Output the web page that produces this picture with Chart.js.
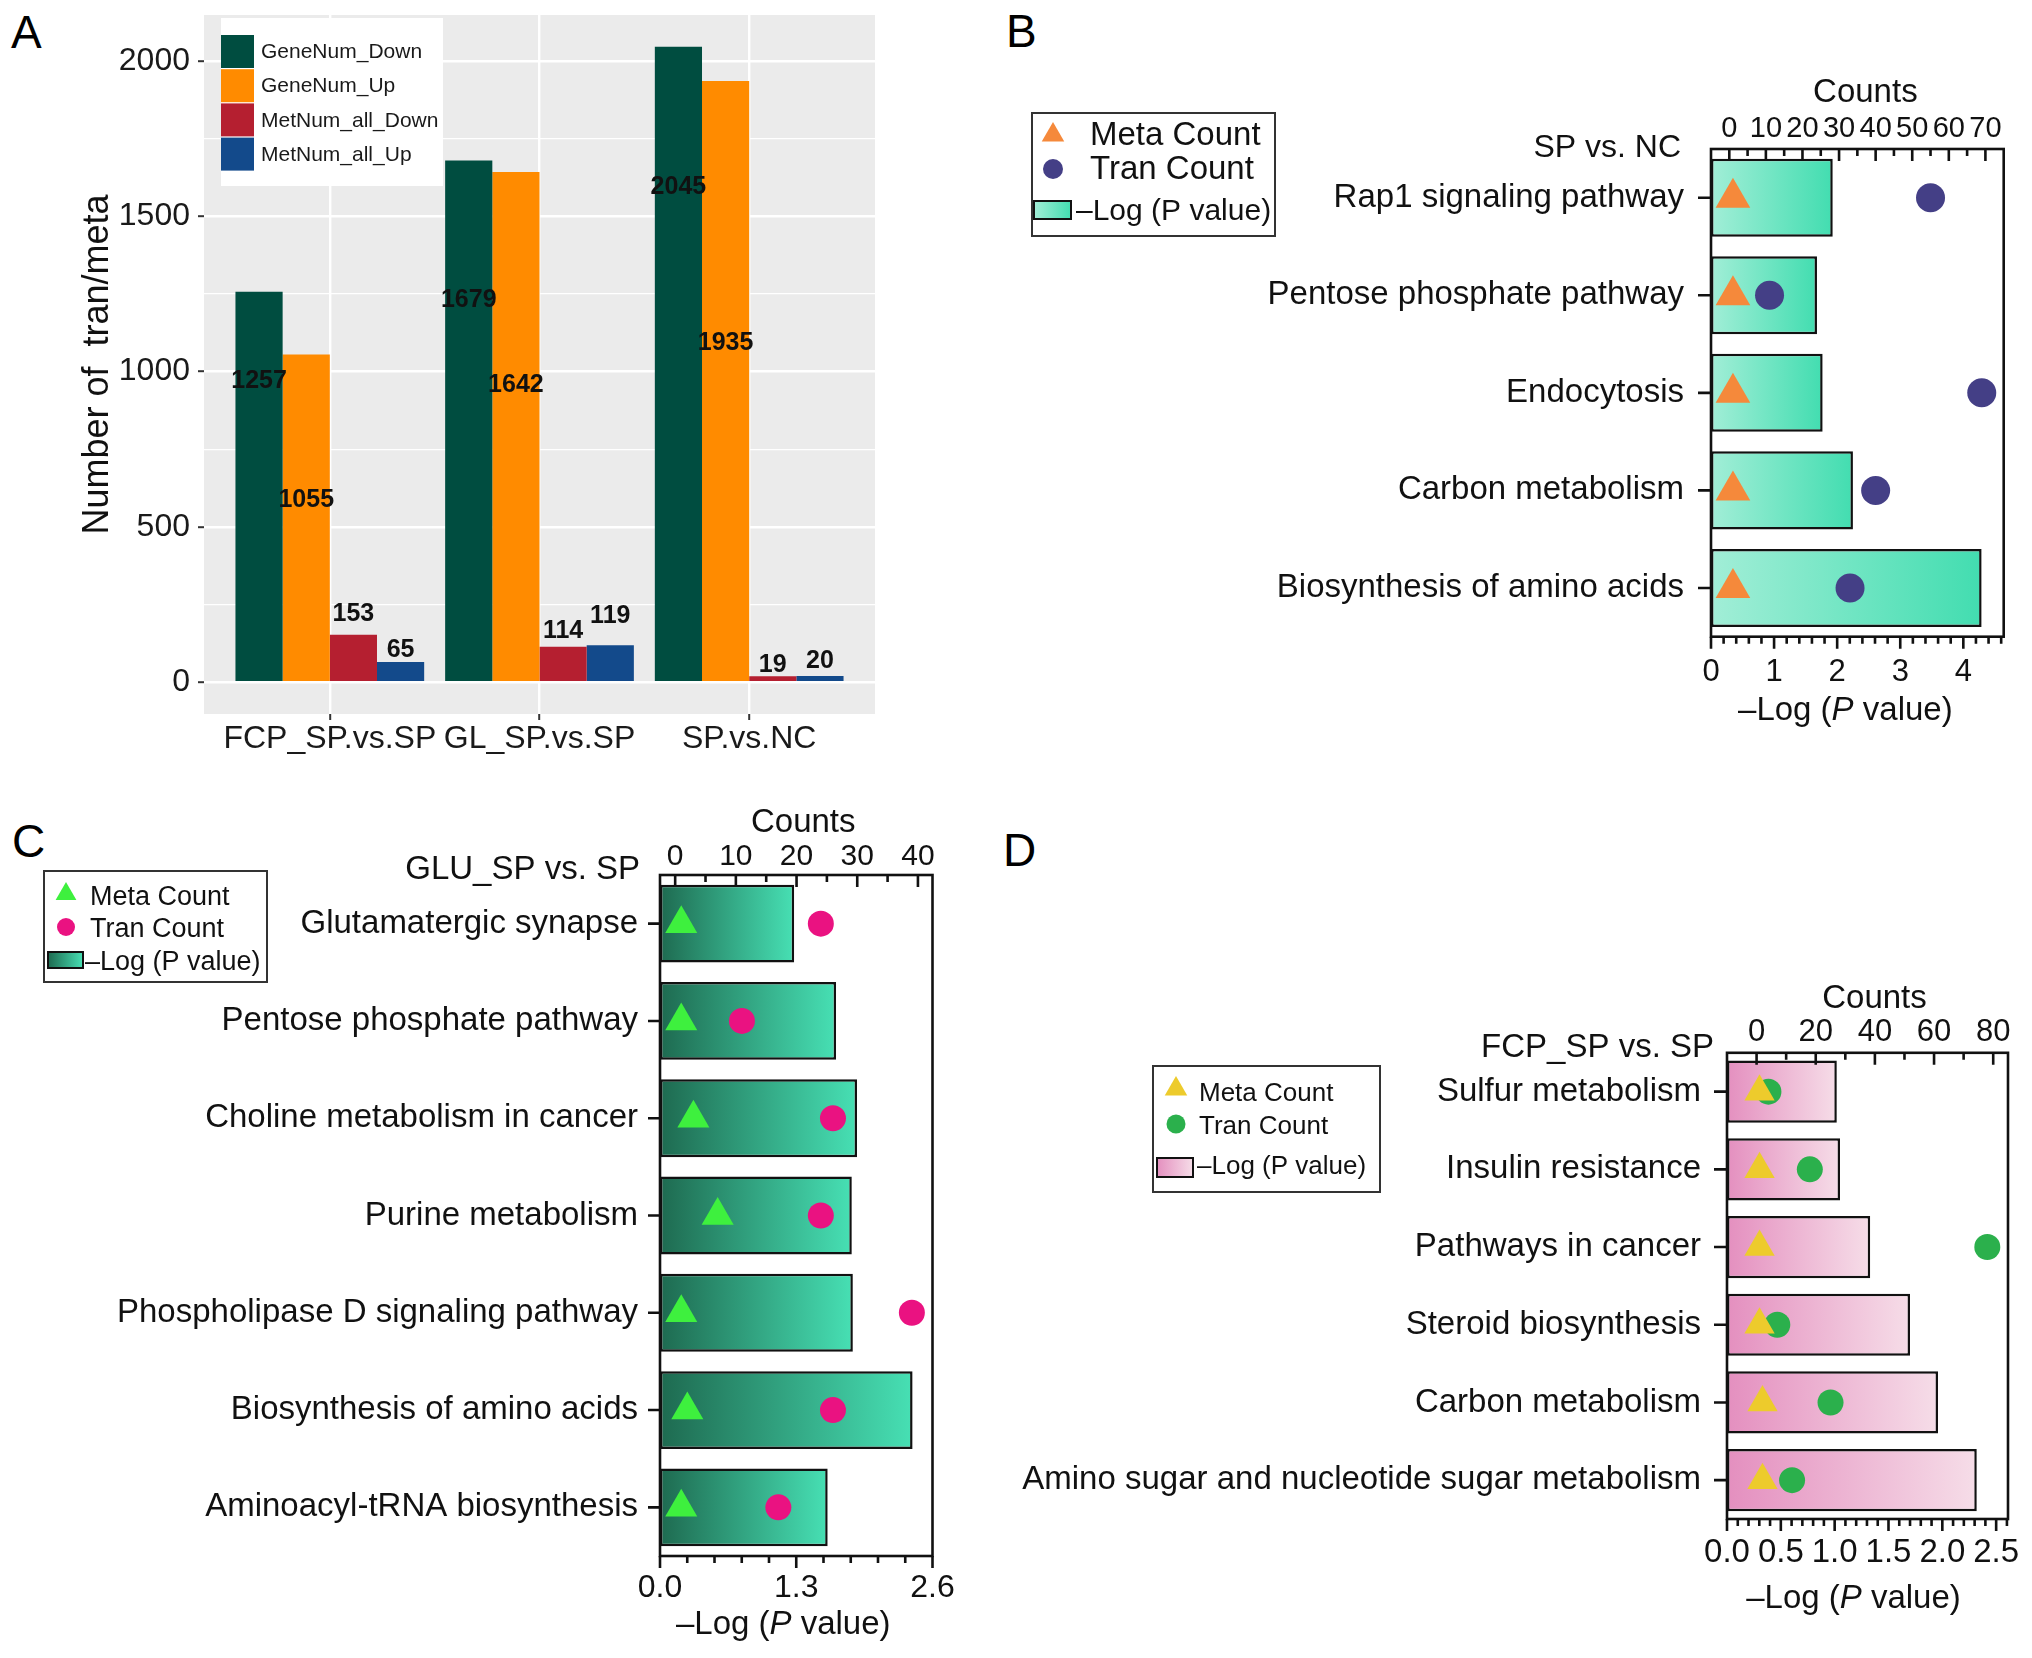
<!DOCTYPE html>
<html>
<head>
<meta charset="utf-8">
<title>Transcriptome / metabolome summary</title>
<script src="https://cdn.jsdelivr.net/npm/chart.js@4.4.1/dist/chart.umd.min.js"></script>
<style>
  html, body { margin:0; padding:0; background:#fff; }
  body { position:relative; width:2032px; height:1658px; overflow:hidden; font-family:'Liberation Sans', Arial, Helvetica, sans-serif; }
  canvas { position:absolute; display:block; }
  .tag { position:absolute; font-size:46px; line-height:46px; color:#000; }
</style>
</head>
<body>
<div class="tag" style="left:11px;top:9px">A</div>
<div class="tag" style="left:1006px;top:8px">B</div>
<div class="tag" style="left:12px;top:818px">C</div>
<div class="tag" style="left:1003px;top:827px">D</div>
<canvas id="chartA" width="900" height="790" style="left:0;top:0;width:900px;height:790px"></canvas>
<canvas id="chartB" width="1032" height="780" style="left:1000px;top:0;width:1032px;height:780px"></canvas>
<canvas id="chartC" width="1000" height="858" style="left:0;top:800px;width:1000px;height:858px"></canvas>
<canvas id="chartD" width="1032" height="858" style="left:1000px;top:800px;width:1032px;height:858px"></canvas>
<script>
// ================= DATA =================
// Panel A – numbers of differential transcripts / metabolites
const groupsA = ['FCP_SP.vs.SP', 'GL_SP.vs.SP', 'SP.vs.NC'];
const geneNumDown   = [1257, 1679, 2045];
const geneNumUp     = [1055, 1642, 1935];
const metNumAllDown = [153, 114, 19];
const metNumAllUp   = [65, 119, 20];
const yTicksA = [0, 500, 1000, 1500, 2000];

// Panel B – SP vs. NC
const pathwaysB  = ['Rap1 signaling pathway', 'Pentose phosphate pathway', 'Endocytosis', 'Carbon metabolism', 'Biosynthesis of amino acids'];
const negLogPB   = [1.93, 1.68, 1.77, 2.25, 4.29];
const metaCountB = [1, 1, 1, 1, 1];
const tranCountB = [55, 11, 69, 40, 33];
const pTicksB     = [0, 1, 2, 3, 4];
const countTicksB = [0, 10, 20, 30, 40, 50, 60, 70];

// Panel C – GLU_SP vs. SP
const pathwaysC  = ['Glutamatergic synapse', 'Pentose phosphate pathway', 'Choline metabolism in cancer', 'Purine metabolism', 'Phospholipase D signaling pathway', 'Biosynthesis of amino acids', 'Aminoacyl-tRNA biosynthesis'];
const negLogPC   = [1.28, 1.68, 1.88, 1.83, 1.84, 2.41, 1.60];
const metaCountC = [1, 1, 3, 7, 1, 2, 1];
const tranCountC = [24, 11, 26, 24, 39, 26, 17];
const pTicksC     = [0, 1.3, 2.6];
const countTicksC = [0, 10, 20, 30, 40];

// Panel D – FCP_SP vs. SP
const pathwaysD  = ['Sulfur metabolism', 'Insulin resistance', 'Pathways in cancer', 'Steroid biosynthesis', 'Carbon metabolism', 'Amino sugar and nucleotide sugar metabolism'];
const negLogPD   = [1.02, 1.05, 1.33, 1.70, 1.96, 2.32];
const metaCountD = [1, 1, 1, 1, 2, 2];
const tranCountD = [4, 18, 78, 7, 25, 12];
const pTicksD     = [0, 0.5, 1, 1.5, 2, 2.5];
const countTicksD = [0, 20, 40, 60, 80];

// ================= HELPERS =================
const FONT = "'Liberation Sans', Arial, Helvetica, sans-serif";
Chart.defaults.font.family = FONT;
Chart.defaults.color = '#111';

function steps(from, to, step) {
  const out = [];
  for (let k = 0; ; k++) {
    const v = +(from + k * step).toFixed(6);
    if (v > to + 1e-9) break;
    out.push(v);
  }
  return out;
}
function minorTicks(majors, from, to, step) {
  return steps(from, to, step).filter(v => !majors.some(m => Math.abs(m - v) < 1e-6));
}
function noPad(s) { s.paddingLeft = 0; s.paddingRight = 0; s.paddingTop = 0; s.paddingBottom = 0; }

// ================= PANEL A =================
const panelBg = {
  id: 'panelBg',
  beforeDraw(chart, args, o) {
    const { ctx, chartArea: a } = chart;
    ctx.save();
    ctx.fillStyle = o.color;
    ctx.fillRect(a.left, a.top, a.right - a.left, a.bottom - a.top);
    ctx.restore();
  }
};
const valueLabels = {
  id: 'valueLabels',
  afterDatasetsDraw(chart, args, o) {
    const ctx = chart.ctx, ys = chart.scales.y;
    ctx.save();
    ctx.font = `bold ${o.size}px ${FONT}`;
    ctx.fillStyle = '#111';
    ctx.textAlign = 'center';
    ctx.textBaseline = 'middle';
    chart.data.datasets.forEach((ds, i) => {
      chart.getDatasetMeta(i).data.forEach((bar, j) => {
        ctx.fillText(String(ds.data[j].y), bar.x, ys.getPixelForValue(o.anchorY[i][j]));
      });
    });
    ctx.restore();
  }
};
const legendA = {
  id: 'legendA',
  afterDraw(chart, args, o) {
    const ctx = chart.ctx;
    ctx.save();
    ctx.fillStyle = '#fff';
    ctx.fillRect(o.x, o.y, o.w, o.h);
    ctx.font = `${o.size}px ${FONT}`;
    ctx.textAlign = 'left';
    ctx.textBaseline = 'middle';
    chart.data.datasets.forEach((ds, i) => {
      const top = o.firstTop + i * o.step;
      ctx.fillStyle = ds.backgroundColor;
      ctx.fillRect(o.x, top, o.key, o.key);
      ctx.fillStyle = '#1a1a1a';
      ctx.fillText(ds.label, o.textX, top + o.key / 2 + 1);
    });
    ctx.restore();
  }
};

const seriesA = [
  { label: 'GeneNum_Down',    values: geneNumDown,   color: '#004d40' },
  { label: 'GeneNum_Up',      values: geneNumUp,     color: '#ff8b00' },
  { label: 'MetNum_all_Down', values: metNumAllDown, color: '#b51f30' },
  { label: 'MetNum_all_Up',   values: metNumAllUp,   color: '#134a8b' }
];
const isMajorA = v => yTicksA.includes(v);

new Chart(document.getElementById('chartA'), {
  type: 'bar',
  data: {
    datasets: seriesA.map(s => ({
      label: s.label,
      data: s.values.map((v, i) => ({ x: i, y: v })),
      backgroundColor: s.color,
      borderWidth: 0,
      categoryPercentage: 0.9,
      barPercentage: 1.0
    }))
  },
  options: {
    responsive: false, devicePixelRatio: 1, animation: false, events: [],
    layout: { padding: { left: 0, right: 25, top: 15, bottom: 0 } },
    plugins: {
      legend: { display: false }, tooltip: { enabled: false },
      panelBg: { color: '#ebebeb' },
      valueLabels: { size: 25, anchorY: [[969, 1230, 1592], [585, 955, 1090], [219, 166, 54], [102, 212, 69]] },
      legendA: { x: 221, y: 18, w: 222, h: 168, key: 33, firstTop: 35, step: 34.2, textX: 261, size: 21 }
    },
    scales: {
      x: {
        type: 'linear', min: -0.6, max: 2.6, offset: false,
        afterBuildTicks: s => { s.ticks = groupsA.map((g, i) => ({ value: i })); },
        afterFit: s => { s.height = 76; noPad(s); },
        grid: { offset: false, color: '#ffffff', lineWidth: 2.4, tickColor: '#333', tickLength: 6, tickWidth: 2 },
        border: { display: false },
        ticks: { autoSkip: false, maxRotation: 0, padding: 0, font: { size: 32 }, color: '#1a1a1a', callback: v => groupsA[v] }
      },
      y: {
        type: 'linear', min: -102.25, max: 2147.25,
        afterBuildTicks: s => { s.ticks = steps(0, 2000, 250).map(v => ({ value: v })); },
        afterFit: s => { s.width = 204; noPad(s); },
        grid: {
          color: '#ffffff',
          lineWidth: c => (c.tick && isMajorA(c.tick.value)) ? 2.4 : 1.2,
          tickColor: c => (c.tick && isMajorA(c.tick.value)) ? '#333' : 'rgba(0,0,0,0)',
          tickLength: 6, tickWidth: 2
        },
        border: { display: false },
        ticks: { autoSkip: false, padding: 8, font: { size: 32 }, color: '#1a1a1a', callback: v => isMajorA(v) ? String(v) : '' },
        title: { display: true, text: 'Number of  tran/meta', font: { size: 36 }, color: '#111', padding: { top: 76, bottom: 0 } }
      }
    }
  },
  plugins: [panelBg, valueLabels, legendA]
});

// ================= PANELS B, C, D =================
function barGradient(colors) {
  return c => {
    if (c.type !== 'data') return colors[1];
    const xs = c.chart.scales.x;
    const x0 = xs.getPixelForValue(0), x1 = xs.getPixelForValue(c.raw);
    if (!isFinite(x0) || !isFinite(x1) || x1 <= x0) return colors[1];
    const g = c.chart.ctx.createLinearGradient(x0, 0, x1, 0);
    g.addColorStop(0, colors[0]);
    g.addColorStop(1, colors[1]);
    return g;
  };
}

function drawLogPTitle(ctx, cx, baseline, size) {
  const parts = [['\u2013Log (', ''], ['P', 'italic '], [' value)', '']];
  let total = 0;
  parts.forEach(p => { ctx.font = `${p[1]}${size}px ${FONT}`; p.w = ctx.measureText(p[0]).width; total += p.w; });
  let x = cx - total / 2;
  ctx.textAlign = 'left';
  ctx.textBaseline = 'alphabetic';
  parts.forEach(p => { ctx.font = `${p[1]}${size}px ${FONT}`; ctx.fillText(p[0], x, baseline); x += p.w; });
}

const enrichDeco = {
  id: 'enrichDeco',
  afterDraw(chart, args, o) {
    const { ctx, chartArea: a, scales } = chart;
    const ys = scales.y, xs = scales.x, x2 = scales.x2;
    ctx.save();
    ctx.strokeStyle = '#111';
    ctx.lineWidth = 2.6;
    ctx.lineCap = 'butt';
    ctx.strokeRect(a.left, a.top, a.right - a.left, a.bottom - a.top);
    ctx.beginPath();
    chart.data.labels.forEach((_, i) => {
      const y = ys.getPixelForValue(i);
      ctx.moveTo(a.left - o.catTick, y); ctx.lineTo(a.left, y);
    });
    o.pTicks.forEach(v => { const x = xs.getPixelForValue(v); ctx.moveTo(x, a.bottom); ctx.lineTo(x, a.bottom + 12); });
    o.pMinor.forEach(v => { const x = xs.getPixelForValue(v); ctx.moveTo(x, a.bottom); ctx.lineTo(x, a.bottom + 7); });
    o.cTicks.forEach(v => { const x = x2.getPixelForValue(v); ctx.moveTo(x, a.top); ctx.lineTo(x, a.top + 12); });
    o.cMinor.forEach(v => { const x = x2.getPixelForValue(v); ctx.moveTo(x, a.top); ctx.lineTo(x, a.top + 7); });
    ctx.stroke();

    ctx.fillStyle = '#111';
    // comparison label
    ctx.font = `${o.cmp.size}px ${FONT}`;
    ctx.textAlign = 'right';
    ctx.textBaseline = 'alphabetic';
    ctx.fillText(o.cmp.text, o.cmp.right, o.cmp.baseline);
    // top axis title
    ctx.font = `33px ${FONT}`;
    ctx.textAlign = 'center';
    ctx.fillText('Counts', (a.left + a.right) / 2 + o.countsDx, o.countsBaseline);
    // bottom axis title
    drawLogPTitle(ctx, (a.left + a.right) / 2 + o.logDx, o.logBaseline, 33);

    // legend
    const L = o.legend;
    const ds = chart.data.datasets;
    ctx.fillStyle = '#fff';
    ctx.fillRect(L.x, L.y, L.w, L.h);
    ctx.strokeStyle = '#333';
    ctx.lineWidth = 2;
    ctx.strokeRect(L.x, L.y, L.w, L.h);
    // triangle
    ctx.fillStyle = ds[0].pointBackgroundColor;
    ctx.beginPath();
    ctx.moveTo(L.sx, L.triY - L.triR);
    ctx.lineTo(L.sx + L.triR * 0.866, L.triY + L.triR / 2);
    ctx.lineTo(L.sx - L.triR * 0.866, L.triY + L.triR / 2);
    ctx.closePath();
    ctx.fill();
    // circle
    ctx.fillStyle = ds[1].pointBackgroundColor;
    ctx.beginPath();
    ctx.arc(L.sx, L.dotY, L.dotR, 0, Math.PI * 2);
    ctx.fill();
    // gradient swatch
    const g = ctx.createLinearGradient(L.rect[0], 0, L.rect[0] + L.rect[2], 0);
    g.addColorStop(0, o.barColors[0]);
    g.addColorStop(1, o.barColors[1]);
    ctx.fillStyle = g;
    ctx.fillRect(L.rect[0], L.rect[1], L.rect[2], L.rect[3]);
    ctx.strokeStyle = '#111';
    ctx.lineWidth = 2;
    ctx.strokeRect(L.rect[0], L.rect[1], L.rect[2], L.rect[3]);
    // texts
    ctx.fillStyle = '#111';
    ctx.textAlign = 'left';
    ctx.textBaseline = 'alphabetic';
    L.texts.forEach((t, i) => {
      ctx.font = `${t.size}px ${FONT}`;
      ctx.fillText(ds[i].label, t.x, t.baseline);
    });
    ctx.restore();
  }
};

function enrichmentChart(id, s) {
  return new Chart(document.getElementById(id), {
    type: 'bar',
    data: {
      labels: s.pathways,
      datasets: [
        { type: 'line', label: 'Meta Count', data: s.meta, xAxisID: 'x2', yAxisID: 'y', showLine: false,
          pointStyle: 'triangle', pointRadius: s.triR, pointBackgroundColor: s.metaColor, pointBorderWidth: 0, order: 1 },
        { type: 'line', label: 'Tran Count', data: s.tran, xAxisID: 'x2', yAxisID: 'y', showLine: false,
          pointStyle: 'circle', pointRadius: s.dotR, pointBackgroundColor: s.tranColor, pointBorderWidth: 0, order: 2 },
        { type: 'bar', label: '\u2013Log (P value)', data: s.logp, xAxisID: 'x', yAxisID: 'y',
          backgroundColor: barGradient(s.barColors), borderColor: '#111', borderWidth: 2.5, borderSkipped: false,
          barPercentage: 0.8, categoryPercentage: 1, order: 3 }
      ]
    },
    options: {
      indexAxis: 'y', responsive: false, devicePixelRatio: 1, animation: false, events: [],
      layout: { padding: { left: 0, right: s.padRight, top: 0, bottom: 0 } },
      plugins: {
        legend: { display: false }, tooltip: { enabled: false },
        enrichDeco: {
          catTick: s.catTick, pTicks: s.pTicks, pMinor: s.pMinor, cTicks: s.cTicks, cMinor: s.cMinor,
          cmp: s.cmp, countsDx: s.countsDx, countsBaseline: s.countsBaseline, logDx: s.logDx, logBaseline: s.logBaseline,
          legend: s.legend, barColors: s.barColors
        }
      },
      scales: {
        y: {
          type: 'category', offset: true,
          afterFit: sc => { sc.width = s.leftW; noPad(sc); },
          grid: { display: false, drawTicks: false }, border: { display: false },
          ticks: { autoSkip: false, padding: s.yPad, font: { size: 33 }, color: '#111' }
        },
        x: {
          type: 'linear', position: 'bottom', min: 0, max: s.pMax,
          afterBuildTicks: sc => { sc.ticks = s.pTicks.map(v => ({ value: v })); },
          afterFit: sc => { sc.height = s.bottomH; noPad(sc); },
          grid: { display: false, drawTicks: false }, border: { display: false },
          ticks: { autoSkip: false, maxRotation: 0, padding: s.bottomPad, font: { size: s.bottomFont }, color: '#111', callback: s.pFmt }
        },
        x2: {
          type: 'linear', position: 'top', min: s.cMin, max: s.cMax,
          afterBuildTicks: sc => { sc.ticks = s.cTicks.map(v => ({ value: v })); },
          afterFit: sc => { sc.height = s.topH; noPad(sc); },
          grid: { display: false, drawTicks: false }, border: { display: false },
          ticks: { autoSkip: false, maxRotation: 0, padding: s.topPad, font: { size: s.topFont }, color: '#111', callback: v => String(v) }
        }
      }
    },
    plugins: [enrichDeco]
  });
}

// Panel B
enrichmentChart('chartB', {
  pathways: pathwaysB, logp: negLogPB, meta: metaCountB, tran: tranCountB,
  metaColor: '#f5893b', tranColor: '#443f86', barColors: ['#a2eed7', '#42ddb0'],
  triR: 20, dotR: 14.5,
  leftW: 711, topH: 149, bottomH: 143.3, padRight: 28.3,
  yPad: 27, catTick: 13,
  pMax: 4.64, pTicks: pTicksB, pMinor: minorTicks(pTicksB, 0, 4.6, 0.2), pFmt: v => String(v), bottomFont: 31, bottomPad: 17,
  cMin: -5, cMax: 75, cTicks: countTicksB, cMinor: steps(5, 65, 10), topFont: 29, topPad: 3,
  cmp: { text: 'SP vs. NC', right: 681, baseline: 157, size: 32 },
  countsDx: 8, countsBaseline: 102, logDx: -12, logBaseline: 720,
  legend: { x: 32, y: 113, w: 243, h: 123, sx: 53, triY: 135, triR: 13, dotY: 169, dotR: 10,
            rect: [34, 201, 37, 18],
            texts: [{ x: 90, baseline: 145, size: 33 }, { x: 90, baseline: 179, size: 33 }, { x: 76, baseline: 220, size: 30 }] }
});

// Panel C
enrichmentChart('chartC', {
  pathways: pathwaysC, logp: negLogPC, meta: metaCountC, tran: tranCountC,
  metaColor: '#3ef03e', tranColor: '#ea1281', barColors: ['#1e6a50', '#47e0b4'],
  triR: 18.5, dotR: 13,
  leftW: 660, topH: 75, bottomH: 102, padRight: 67.5,
  yPad: 22, catTick: 12,
  pMax: 2.6, pTicks: pTicksC, pMinor: minorTicks(pTicksC, 0, 2.6, 0.26), pFmt: v => v.toFixed(1), bottomFont: 32, bottomPad: 13,
  cMin: -2.5, cMax: 42.4, cTicks: countTicksC, cMinor: steps(5, 35, 10), topFont: 30, topPad: 0,
  cmp: { text: 'GLU_SP vs. SP', right: 640, baseline: 79, size: 33 },
  countsDx: 7, countsBaseline: 32, logDx: -13, logBaseline: 834,
  legend: { x: 44, y: 71, w: 223, h: 111, sx: 66, triY: 94, triR: 12, dotY: 127, dotR: 9,
            rect: [48, 152, 35, 16],
            texts: [{ x: 90, baseline: 105, size: 27 }, { x: 90, baseline: 137, size: 27 }, { x: 85, baseline: 170, size: 27 }] }
});

// Panel D
enrichmentChart('chartD', {
  pathways: pathwaysD, logp: negLogPD, meta: metaCountD, tran: tranCountD,
  metaColor: '#edcb2c', tranColor: '#2bb04c', barColors: ['#e48fbf', '#f6dde8'],
  triR: 17.5, dotR: 13,
  leftW: 727, topH: 252.8, bottomH: 139, padRight: 24,
  yPad: 26, catTick: 13,
  pMax: 2.61, pTicks: pTicksD, pMinor: minorTicks(pTicksD, 0, 2.6, 0.1), pFmt: v => v.toFixed(1), bottomFont: 33, bottomPad: 14,
  cMin: -10, cMax: 85, cTicks: countTicksD, cMinor: steps(10, 70, 20), topFont: 31, topPad: 1.5,
  cmp: { text: 'FCP_SP vs. SP', right: 714, baseline: 257, size: 33 },
  countsDx: 7, countsBaseline: 208, logDx: -14, logBaseline: 808,
  legend: { x: 153, y: 266, w: 227, h: 126, sx: 176, triY: 289, triR: 13, dotY: 324, dotR: 9.5,
            rect: [157, 358, 36, 19],
            texts: [{ x: 199, baseline: 301, size: 26 }, { x: 199, baseline: 334, size: 26 }, { x: 197, baseline: 374, size: 26 }] }
});
</script>
</body>
</html>
